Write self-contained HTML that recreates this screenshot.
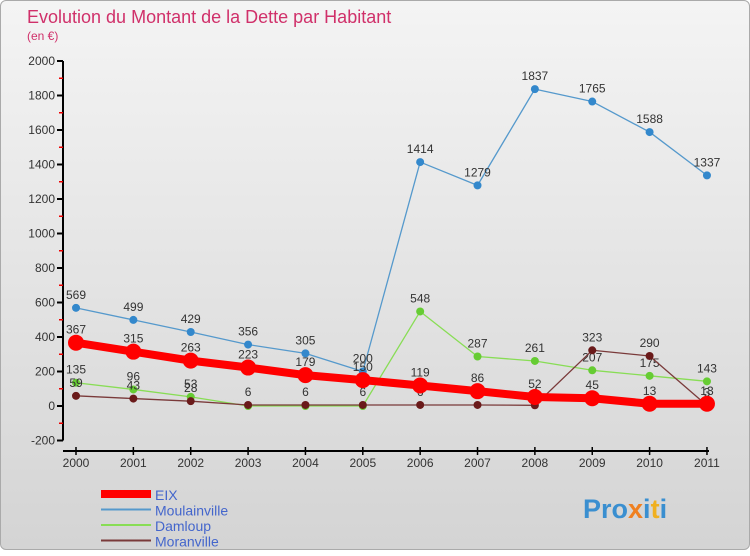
<!DOCTYPE html>
<html><head><meta charset="utf-8"><style>
body{margin:0;width:750px;height:550px;overflow:hidden;font-family:"Liberation Sans",sans-serif}
#c{position:absolute;left:0;top:0;width:748px;height:548px;border:1px solid #aaa;border-radius:6px;background:linear-gradient(#f4f4f4,#d4d4d4)}
</style></head><body>
<div id="c">
<svg width="750" height="550" font-family="Liberation Sans, sans-serif">
<text x="26" y="22" font-size="18" fill="#d0306a">Evolution du Montant de la Dette par Habitant</text>
<text x="26" y="39" font-size="12" fill="#d0306a">(en €)</text>
<g id="axes"></g><g id="series"></g><g id="legend"></g>
<text x="582" y="517" font-size="27" font-weight="bold" fill="#3a8fd0">Pro<tspan fill="#f08020">x</tspan>i<tspan fill="#f0b020">t</tspan>i</text>
</svg></div>
<script>
const years=[2000,2001,2002,2003,2004,2005,2006,2007,2008,2009,2010,2011];
const eix=[367,315,263,223,179,150,119,86,52,45,13,13];
const moulainville=[569,499,429,356,305,200,1414,1279,1837,1765,1588,1337];
const damloup=[135,96,53,0,0,0,548,287,261,207,175,143];
const moranville=[59,43,28,6,6,6,6,6,4,323,290,3];
const yTicks=[-200,0,200,400,600,800,1000,1200,1400,1600,1800,2000];
const NS="http://www.w3.org/2000/svg";
const X=i=>75+i*57.36, Y=v=>405-v*0.1725;
function mk(p,t,a){const e=document.createElementNS(NS,t);for(const k in a)e.setAttribute(k,a[k]);p.appendChild(e);return e;}
const ax=document.getElementById('axes');
mk(ax,'line',{x1:62,y1:Y(2000),x2:62,y2:Y(-200),stroke:'#000','stroke-width':2});
mk(ax,'line',{x1:62,y1:450,x2:708,y2:450,stroke:'#000','stroke-width':2});
yTicks.forEach((v,i)=>{
 const t=mk(ax,'line',{x1:56,x2:62,y1:Y(v),y2:Y(v),stroke:'#000','stroke-width':2});
 
 const l=mk(ax,'text',{x:54,y:Y(v)+4,'font-size':12,'text-anchor':'end',fill:'#333'});l.textContent=v;
 
 if(i<yTicks.length-1){mk(ax,'line',{x1:58,x2:62,y1:Y(v+100),y2:Y(v+100),stroke:'#e00','stroke-width':1.5});}
});
years.forEach((yr,i)=>{
 mk(ax,'line',{x1:X(i),x2:X(i),y1:446,y2:454,stroke:'#000','stroke-width':1.5});
 const l=mk(ax,'text',{x:X(i),y:466,'font-size':12,'text-anchor':'middle',fill:'#333'});l.textContent=yr;
 
});
const sg=document.getElementById('series');
const defs=[[damloup,'#88dd55','#66cc33',1.3,4,'damloup'],[moranville,'#7a3a3a','#6a1a1a',1.3,4,'moranville'],[moulainville,'#5599cc','#3388cc',1.3,4,'moulainville'],[eix,'#ff0000','#ff0000',8,8,'eix']];
defs.forEach(([d,lc,pc,w,r,n])=>{
 const p=mk(sg,'polyline',{points:d.map((v,i)=>X(i)+','+Y(v)).join(' '),fill:'none',stroke:lc,'stroke-width':w,'stroke-linejoin':'round'});
 
 d.forEach((v,i)=>{
  const c=mk(sg,'circle',{cx:X(i),cy:Y(v),r:r,fill:pc});
  
  if(v===0)return;
  const t=mk(sg,'text',{x:X(i),y:Y(v)-9,'font-size':12,'text-anchor':'middle',fill:'#333'});t.textContent=v;
  
 });
});
const lg=document.getElementById('legend');
[['EIX','#ff0000',8],['Moulainville','#5599cc',2],['Damloup','#88dd55',2],['Moranville','#7a3a3a',2]].forEach(([n,c,w],i)=>{
 const y=493+i*15.5;
 const l=mk(lg,'line',{x1:100,x2:150,y1:y,y2:y,stroke:c,'stroke-width':w});
 
 const t=mk(lg,'text',{x:154,y:y+6,'font-size':14,fill:'#4466cc'});t.textContent=n;
 
});
</script></body></html>
